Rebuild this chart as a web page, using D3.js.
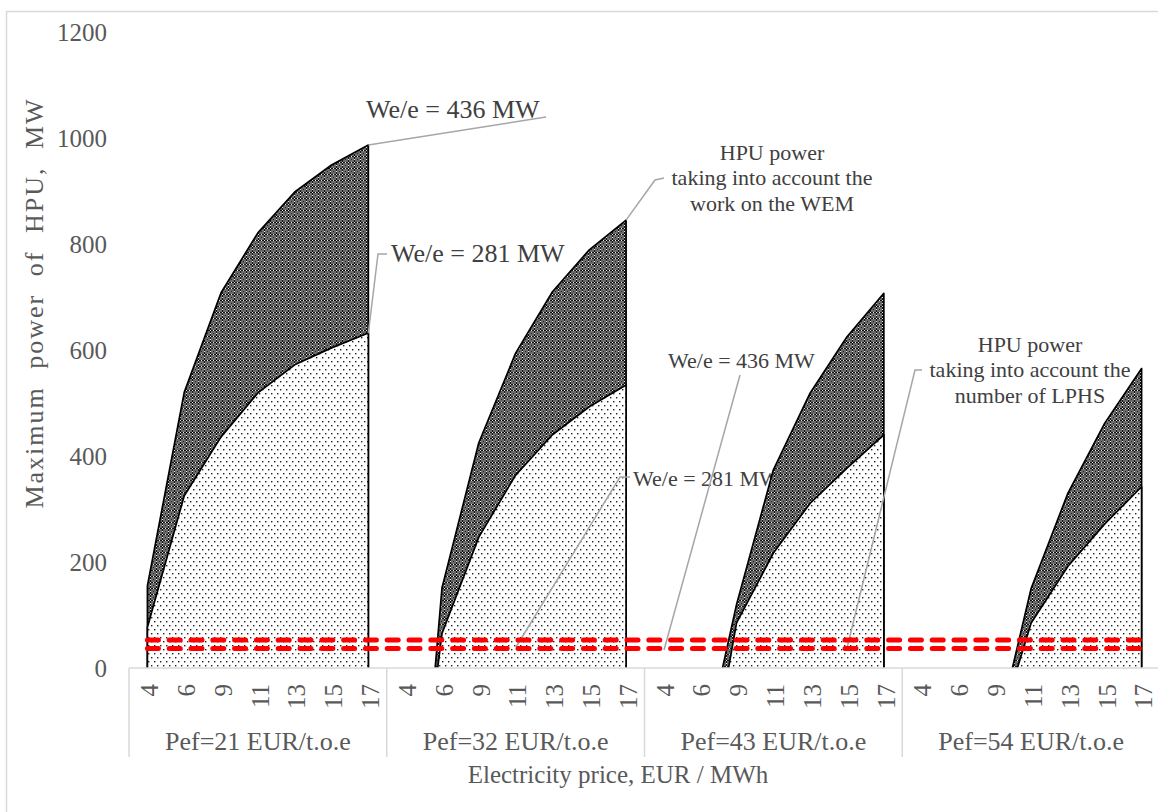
<!DOCTYPE html>
<html>
<head>
<meta charset="utf-8">
<script src="https://cdn.jsdelivr.net/npm/d3@7"></script>
<style>
body { margin: 0; background: #fff; }
svg text { font-family: "Liberation Serif", "Times New Roman", serif; }
</style>
</head>
<body>
<div id="chart"></div>
<script>
// fuel price groups and electricity price categories
var groups = ["Pef=21 EUR/t.o.e", "Pef=32 EUR/t.o.e", "Pef=43 EUR/t.o.e", "Pef=54 EUR/t.o.e"];
var prices = ["4", "6", "9", "11", "13", "15", "17"];

// HPU power, MW (negative values are clipped by the axis at 0)
var power436 = [
  [155, 520, 708, 821, 898, 949, 987],
  [-665, 151, 425, 594, 710, 789, 845],
  [-700, -195, 120, 374, 519, 625, 707],
  [-700, -500, -145, 150, 330, 462, 565]
];
var power281 = [
  [77, 325, 436, 519, 572, 604, 632],
  [-490, 65, 247, 364, 440, 493, 534],
  [-700, -306, 85, 217, 311, 377, 440],
  [-700, -500, -143, 85, 192, 272, 342]
];
// LPHS limits shown as red dashed lines
var limits = [53, 37];
var yTicks = [0, 200, 400, 600, 800, 1000, 1200];

var width = 1158, height = 812;
var plotLeft = 129, plotRight = 1160, plotTop = 32, plotBase = 668;
var nCat = groups.length * prices.length;

var svg = d3.select("#chart").append("svg")
  .attr("width", width)
  .attr("height", height);

var x = d3.scalePoint()
  .domain(d3.range(nCat))
  .range([plotLeft, plotRight])
  .padding(0.5);
var step = x.step();

var y = d3.scaleLinear()
  .domain([0, 1200])
  .range([plotBase, plotTop]);

var defs = svg.append("defs");
defs.append("clipPath").attr("id", "plot")
  .append("rect")
  .attr("x", plotLeft).attr("y", 0)
  .attr("width", plotRight - plotLeft).attr("height", plotBase);

// dark lattice pattern
var hatch = defs.append("pattern").attr("id", "hatch")
  .attr("patternUnits", "userSpaceOnUse")
  .attr("width", 6).attr("height", 6);
hatch.append("rect").attr("width", 6).attr("height", 6).attr("fill", "#6a6a6a");
hatch.append("rect").attr("width", 6).attr("height", 1).attr("fill", "#111");
hatch.append("rect").attr("width", 1).attr("height", 6).attr("fill", "#111");
hatch.append("rect").attr("x", 3).attr("y", 3).attr("width", 1).attr("height", 1).attr("fill", "#222");
[[0, 0], [3, 0], [0, 3]].forEach(function(p) {
  hatch.append("rect").attr("x", p[0]).attr("y", p[1]).attr("width", 1).attr("height", 1).attr("fill", "#eee");
});

// sparse dots pattern
var dots = defs.append("pattern").attr("id", "dots")
  .attr("patternUnits", "userSpaceOnUse")
  .attr("width", 6).attr("height", 8);
dots.append("rect").attr("width", 6).attr("height", 8).attr("fill", "#fff");
dots.append("rect").attr("x", 1).attr("y", 1).attr("width", 1.4).attr("height", 1.4).attr("fill", "#222");
dots.append("rect").attr("x", 4).attr("y", 5).attr("width", 1.4).attr("height", 1.4).attr("fill", "#222");

// outer chart border
svg.append("rect")
  .attr("x", 6.5).attr("y", 11.5)
  .attr("width", 1170).attr("height", 820)
  .attr("fill", "none")
  .attr("stroke", "#d9d9d9")
  .attr("stroke-width", 1.5);

// annotation texts (under the areas)
var labels = [
  { lines: ["We/e = 436 MW"], x: 366, y: 118, size: 26, anchor: "start" },
  { lines: ["We/e = 281 MW"], x: 391, y: 262, size: 26, anchor: "start" },
  { lines: ["HPU power", "taking into account the", "work on the WEM"], x: 772, y: 160, size: 22, anchor: "middle" },
  { lines: ["We/e = 436 MW"], x: 668, y: 368, size: 22, anchor: "start" },
  { lines: ["We/e = 281 MW"], x: 633, y: 486, size: 22, anchor: "start" },
  { lines: ["HPU power", "taking into account the", "number of LPHS"], x: 1030, y: 352, size: 22, anchor: "middle" }
];
labels.forEach(function(l) {
  var t = svg.append("text")
    .attr("x", l.x).attr("y", l.y)
    .attr("text-anchor", l.anchor)
    .attr("font-size", l.size)
    .attr("fill", "#404040");
  l.lines.forEach(function(s, k) {
    t.append("tspan").attr("x", l.x).attr("dy", k === 0 ? 0 : "1.15em").text(s);
  });
});

// areas
var plot = svg.append("g").attr("clip-path", "url(#plot)");
var area = d3.area()
  .x(function(d) { return x(d.i); })
  .y0(y(0))
  .y1(function(d) { return y(d.v); });
var outline = d3.line()
  .x(function(d) { return x(d.i); })
  .y(function(d) { return y(d.v); });

function drawSeries(series, fill) {
  series.forEach(function(vals, g) {
    var pts = vals.map(function(v, i) { return { i: g * prices.length + i, v: v }; });
    plot.append("path")
      .attr("d", area(pts))
      .attr("fill", fill);
    var edge = [{ i: pts[0].i, v: 0 }].concat(pts, [{ i: pts[pts.length - 1].i, v: 0 }]);
    plot.append("path")
      .attr("d", outline(edge))
      .attr("fill", "none")
      .attr("stroke", "#000")
      .attr("stroke-width", 1.7)
      .attr("stroke-linejoin", "round");
  });
}
drawSeries(power436, "url(#hatch)");
drawSeries(power281, "url(#dots)");

// leader lines
var leaders = [
  [[x(6), y(power436[0][6])], [546, 117]],
  [[x(6), y(power281[0][6])], [378, 254], [387, 254]],
  [[x(13), y(power436[1][6])], [655, 180], [664, 178]],
  [[740, 375], [664, 650]],
  [[630, 477], [620, 477], [516, 647]],
  [[922, 370], [915, 370], [847, 648]]
];
svg.selectAll(".leader")
  .data(leaders)
  .enter()
  .append("path")
  .attr("class", "leader")
  .attr("d", d3.line())
  .attr("fill", "none")
  .attr("stroke", "#a6a6a6")
  .attr("stroke-width", 1.5);

// red dashed limit lines
svg.selectAll(".limit")
  .data(limits)
  .enter()
  .append("line")
  .attr("class", "limit")
  .attr("x1", x(0)).attr("x2", x(nCat - 1))
  .attr("y1", function(d) { return y(d); })
  .attr("y2", function(d) { return y(d); })
  .attr("stroke", "#ff0000")
  .attr("stroke-width", 5)
  .attr("stroke-linecap", "round")
  .attr("stroke-dasharray", "11,10.8");

// y axis labels
svg.selectAll(".ytick")
  .data(yTicks)
  .enter()
  .append("text")
  .attr("class", "ytick")
  .attr("x", 107)
  .attr("y", function(d) { return y(d); })
  .attr("dy", "0.35em")
  .attr("text-anchor", "end")
  .attr("font-size", 25)
  .attr("fill", "#595959")
  .text(function(d) { return d; });

svg.append("text")
  .attr("transform", "translate(43,303) rotate(-90)")
  .attr("text-anchor", "middle")
  .attr("font-size", 26)
  .attr("letter-spacing", 2)
  .attr("word-spacing", 9)
  .attr("fill", "#595959")
  .text("Maximum power of HPU, MW");

// category axis
svg.append("line")
  .attr("x1", plotLeft).attr("x2", plotRight)
  .attr("y1", plotBase).attr("y2", plotBase)
  .attr("stroke", "#d9d9d9").attr("stroke-width", 1.5);

svg.selectAll(".sep")
  .data(d3.range(groups.length + 1))
  .enter()
  .append("line")
  .attr("class", "sep")
  .attr("x1", function(g) { return plotLeft + g * prices.length * step; })
  .attr("x2", function(g) { return plotLeft + g * prices.length * step; })
  .attr("y1", plotBase).attr("y2", 757)
  .attr("stroke", "#d9d9d9").attr("stroke-width", 1.5);

var cats = [];
groups.forEach(function(gname, g) {
  prices.forEach(function(p, i) { cats.push({ i: g * prices.length + i, label: p }); });
});
svg.selectAll(".xtick")
  .data(cats)
  .enter()
  .append("text")
  .attr("class", "xtick")
  .attr("transform", function(d) { return "translate(" + (x(d.i) + 2) + ",684) rotate(-90)"; })
  .attr("dy", "0.35em")
  .attr("text-anchor", "end")
  .attr("font-size", 25)
  .attr("fill", "#595959")
  .text(function(d) { return d.label; });

svg.selectAll(".group")
  .data(groups)
  .enter()
  .append("text")
  .attr("class", "group")
  .attr("x", function(d, g) { return plotLeft + (g + 0.5) * prices.length * step; })
  .attr("y", 750)
  .attr("text-anchor", "middle")
  .attr("font-size", 26)
  .attr("fill", "#595959")
  .text(function(d) { return d; });

svg.append("text")
  .attr("x", 618)
  .attr("y", 783)
  .attr("text-anchor", "middle")
  .attr("font-size", 25)
  .attr("fill", "#595959")
  .text("Electricity price, EUR / MWh");
</script>
</body>
</html>
